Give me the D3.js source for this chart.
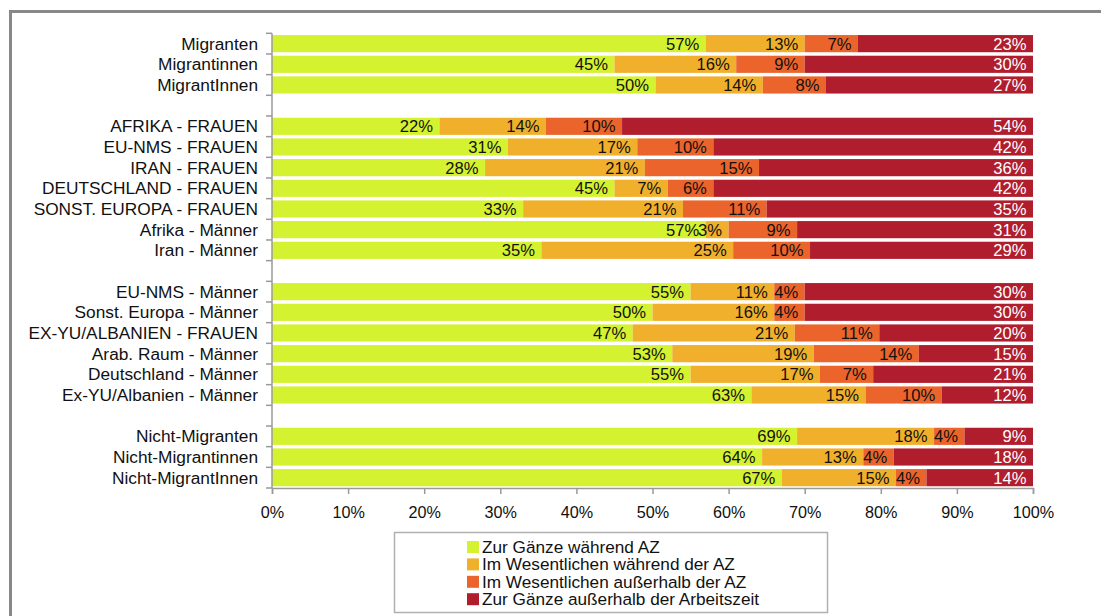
<!DOCTYPE html>
<html><head><meta charset="utf-8">
<script src="https://cdn.jsdelivr.net/npm/d3@7"></script>
<style>
html,body{margin:0;padding:0;background:#fff;}
svg{display:block;font-family:"Liberation Sans",Arial,sans-serif;}
</style></head>
<body><svg id="c" width="1101" height="616"></svg>
<script>
const categories = ["Migranten","Migrantinnen","MigrantInnen","",
  "AFRIKA - FRAUEN","EU-NMS - FRAUEN","IRAN - FRAUEN","DEUTSCHLAND - FRAUEN","SONST. EUROPA - FRAUEN","Afrika - Männer","Iran - Männer","",
  "EU-NMS - Männer","Sonst. Europa - Männer","EX-YU/ALBANIEN - FRAUEN","Arab. Raum - Männer","Deutschland - Männer","Ex-YU/Albanien - Männer","",
  "Nicht-Migranten","Nicht-Migrantinnen","Nicht-MigrantInnen"];
const seriesNames = ["Zur Gänze während AZ","Im Wesentlichen während der AZ","Im Wesentlichen außerhalb der AZ","Zur Gänze außerhalb der Arbeitszeit"];
const zurGanzeWaehrend   = [57,45,50.4,null, 22,31,28,45,33,57,35.4,null, 55,50,47.4,52.6,55,63,null, 69,64.4,67];
const imWesWaehrend      = [13,16,14.1,null, 14,17,21,7,21,3,25.2,null, 11,16,21.3,18.6,17,15,null, 18,13.3,15];
const imWesAusserhalb    = [7,9,8.3,null, 10,10,15,6,11,9,10.1,null, 4,4,11.1,13.8,7,10,null, 4,4,4];
const zurGanzeAusserhalb = [23,30,27.2,null, 54,42,36,42,35,31,29.3,null, 30,30,20.2,15,21,12,null, 9,18.3,14];
const xTicks = [0,10,20,30,40,50,60,70,80,90,100];
const colors = ["#d5f230","#f1b02c","#ea642c","#b01e2e"];
const labelColors = ["#111","#111","#111","#fff"];

(function(){
const svg = d3.select("#c");
svg.append("rect").attr("x",10.5).attr("y",11.5).attr("width",1200).attr("height",700)
  .attr("fill","none").attr("stroke","#888").attr("stroke-width",3);

const pLeft = 272, pRight = 1033, pTop = 33.3, pBottom = 488;
const x = d3.scaleLinear().domain([0,100]).range([pLeft,pRight]);
const y = d3.scaleBand().domain(d3.range(categories.length)).range([pTop,pBottom]).paddingInner(0.17).paddingOuter(0.085);
const step = y.step();

const series = [zurGanzeWaehrend, imWesWaehrend, imWesAusserhalb, zurGanzeAusserhalb];
const rows = categories.map((c,i)=>({i, vals: series.map(s=>s[i])}));
const stacked = d3.stack().keys([0,1,2,3]).value((d,k)=>d.vals[k]||0)(rows);

const g = svg.append("g");
stacked.forEach((layer,k)=>{
  const lg = g.append("g");
  layer.forEach(seg=>{
    const d = seg.data;
    if (d.vals[k]==null) return;
    lg.append("rect").attr("x",x(seg[0])).attr("y",y(d.i))
      .attr("width",x(seg[1])-x(seg[0])).attr("height",y.bandwidth()).attr("fill",colors[k]);
    lg.append("text").attr("x",x(seg[1])-6.5).attr("y",y(d.i)+y.bandwidth()/2+6)
      .attr("text-anchor","end").attr("font-size","16.6px").attr("fill",labelColors[k])
      .text(Math.round(d.vals[k])+"%");
  });
});

const axisColor = "#9a9a9a";
svg.append("line").attr("x1",pLeft).attr("x2",pLeft).attr("y1",pTop).attr("y2",pBottom)
  .attr("stroke",axisColor).attr("stroke-width",1.5);
d3.range(categories.length+1).forEach(j=>{
  const yy = pTop + j*step;
  svg.append("line").attr("x1",pLeft-6).attr("x2",pLeft).attr("y1",yy).attr("y2",yy)
    .attr("stroke",axisColor).attr("stroke-width",1.5);
});
categories.forEach((c,i)=>{
  if(!c) return;
  svg.append("text").attr("x",258).attr("y",y(i)+y.bandwidth()/2+6)
    .attr("text-anchor","end").attr("font-size","17.3px").attr("fill","#111").text(c);
});

const xAxis = d3.axisBottom(x).tickValues(xTicks).tickFormat(d=>d+"%").tickSize(6).tickPadding(12);
const xg = svg.append("g").attr("transform",`translate(0,${pBottom})`).call(xAxis);
xg.select(".domain").attr("stroke",axisColor).attr("stroke-width",1.5);
xg.selectAll(".tick line").attr("stroke",axisColor).attr("stroke-width",1.5);
xg.selectAll(".tick text").attr("font-size","16.2px").attr("fill","#111").attr("font-family","Liberation Sans, Arial, sans-serif");

svg.append("rect").attr("x",394.5).attr("y",532.5).attr("width",433).attr("height",80)
  .attr("fill","#fff").attr("stroke","#b0b0b0").attr("stroke-width",1.5);
seriesNames.forEach((n,k)=>{
  const yy = 541 + k*17.4;
  svg.append("rect").attr("x",467).attr("y",yy).attr("width",12).attr("height",12).attr("fill",colors[k]);
  svg.append("text").attr("x",482).attr("y",yy+12).attr("font-size","17.2px").attr("fill","#111").text(n);
});
})();
</script></body></html>
